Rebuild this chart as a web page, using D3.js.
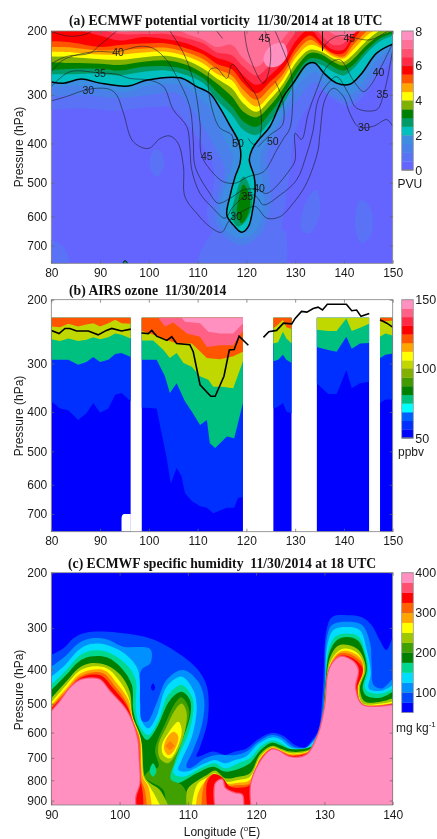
<!DOCTYPE html>
<html><head><meta charset="utf-8">
<script src="https://cdnjs.cloudflare.com/ajax/libs/d3/7.8.5/d3.min.js"></script>
<style>html,body{margin:0;padding:0;background:#fff}svg{display:block;filter:blur(0.4px)}text{font-family:"Liberation Sans",Arial,sans-serif;fill:#1a1a1a}.ttl{font-family:"Liberation Serif",serif;font-weight:bold;fill:#111}</style>
</head><body><svg id="c" width="437" height="839"></svg>
<script>
// ---------- tick labels ----------
const pressureTicksAB=[200,300,400,500,600,700];
const pressureTicksC=[200,300,400,500,600,700,800,900];
const lonTicksAB=[80,90,100,110,120,130,140,150];
const lonTicksC=[90,100,110,120,130,140];
const titles=["(a) ECMWF potential vorticity  11/30/2014 at 18 UTC","(b) AIRS ozone  11/30/2014","(c) ECMWF specific humidity  11/30/2014 at 18 UTC"];

// ---------- (a) potential vorticity ----------
const pvColors=['#6464ff','#5a72f6','#4a80ea','#3d8de2','#00c0c0','#009a66','#008000','#80b000','#ffff00','#ffa500','#ff5500','#ff0000','#ff2a45','#ff5070','#ff7099','#ff90c0'];
const pvLon=[80,84.5,90,94.1,98.9,103.6,107.8,111.2,113.9,117,119.4,122.1,124.8,127.6,130.3,133,135.4,137.8,139.9,141.9,144.7,147.4,150];
const pv25=[264,264,263,266,260,258,266,279,309,338,370,381,352,316,274,247,249,260,266,255,231,214,206];
const pv30=[257,255,255,258,252,251,257,271,294,322,352,363,335,300,263,239,241,252,258,249,226,210,203];
const pv35=[245,246,247,249,244,242,249,263,279,303,332,343,321,288,252,231,233,244,250,240,219,206,200];
const pv40=[236,237,240,241,237,235,242,255,271,288,316,332,309,279,244,226,229,239,244,233,213,199,190];
const pv45=[229,230,233,233,230,229,236,247,263,274,303,322,300,271,236,219,224,236,239,226,206,195,185];
const pv50=[222,223,227,226,224,223,230,240,255,266,291,309,288,263,229,212,222,233,236,219,200,185,175];
const pv55=[214,216,222,219,217,217,224,233,247,256,279,297,277,255,222,206,219,231,231,212,190,175,170];
const pv60=[197,198,206,213,208,211,217,227,238,246,266,282,266,244,212,198,214,226,226,206,190,170,165];
const pv65=[190,190,198,204,204,204,210,217,230,234,252,266,249,226,201,190,206,219,217,199,185,170,165];
const pv70=[185,185,190,201,198,193,204,212,222,219,239,252,233,210,190,185,193,204,208,204,180,170,165];
const pv75=[[124.2,226],[125.6,218],[127.6,217],[128.4,233],[126.9,249],[124.5,252],[123.5,241]];
const pv20=[[80,277],[82.5,279],[86.2,272],[90,279],[95.8,284],[99.5,274],[106.4,270],[109.8,285],[112.5,297],[114.6,325],[116.6,360],[118.3,393],[118.8,416],[118.7,448],[117.7,483],[116.6,540],[116,596],[117.3,628],[119,653],[120.4,634],[121.4,569],[121.8,520],[121.6,483],[120.6,440],[121.1,416],[122.4,393],[124.8,363],[127.6,303],[129.6,279],[132.4,248],[134,246],[136,263],[138.5,279],[141.2,281],[143.6,263],[146.7,231],[150,218]];
const pv15=[[80,286],[86.2,284],[90,290],[95.8,294],[99.5,284],[106.4,282],[109.8,300],[112.2,322],[113.9,356],[116,400],[117.3,432],[116.6,474],[114.9,549],[114.6,612],[116.6,656],[119,673],[122.1,645],[123.5,569],[123.5,510],[122.8,440],[123.5,408],[126.2,363],[128.9,309],[131,279],[134.1,260],[136.1,279],[138.5,294],[141.2,300],[144,276],[147.1,239],[150,224]];
const pv10=[[80,303],[86.6,300],[93.4,306],[100.2,300],[105.7,297],[108.4,322],[111.2,363],[113.9,416],[115.6,465],[114.2,540],[113.6,612],[116,673],[119,698],[122.8,661],[124.8,580],[124.8,492],[124.2,432],[125.5,393],[128.3,335],[131,303],[134.1,276],[136.1,294],[138.5,306],[141.2,313],[144,291],[147.4,249],[150,231]];
const pv05=[[80,328],[86.6,325],[93.4,330],[100.2,323],[105,325],[107.8,356],[111.2,408],[113.2,457],[113.2,510],[111.9,590],[113.2,656],[116.6,705],[121.4,728],[126.2,692],[127.6,590],[128.9,474],[129.6,393],[131,349],[132.7,322],[135.1,291],[137.8,309],[141.2,322],[144,303],[147.4,263],[150,244]];
const pv05Bottom=[[109.8,767],[111.9,680],[114.6,634],[119.4,656],[124.2,680],[127.6,645],[128.3,767],[127.6,800],[110,800]];
const pv05West=[[100.9,416],[102.3,416],[103.1,457],[101.6,483],[100.2,457]];
const pv05Corner=[[79,680],[82.5,705],[83.5,767],[79,790]];
const pv05East1=[[132.4,549],[134.4,520],[135.1,590],[133,656],[131.3,645]];
const pv05East2=[[143.3,549],[145.3,569],[145.7,656],[143.6,692],[142.3,634]];
const pvBlob25=[[119.4,483],[120.7,510],[121.2,559],[120,612],[118.3,634],[117,601],[117.7,540]];
const pvBlob30=[[119.4,505],[120.7,540],[120.4,590],[119,623],[118.1,590],[118.5,540]];
const pvDot=[[94.8,762],[95.1,757],[95.5,762],[95.5,775],[94.8,775]];

const theta30=[[80,311],[83.1,303],[86.6,292],[89.3,288],[92,290],[93.4,300],[94.8,335],[96.8,396],[99.9,412],[102.3,389],[104.3,383],[106,400],[107.1,457],[107.4,540],[109.8,590],[112.5,634],[114.9,653],[116.6,612],[119.7,580],[121.8,569],[124.2,606],[126.9,601],[129.6,559],[132,510],[133.7,457],[134.7,416],[135.1,377],[136.1,309],[137.8,288],[139.9,303],[141.2,335],[143,363],[146,362],[148.8,348],[150,362]];
const theta35=[[80,285],[83.8,260],[90,262],[93.4,264],[96.1,271],[100.2,274],[103,285],[105,328],[107.8,363],[108.4,408],[108.8,465],[110.5,530],[113.2,575],[115.6,606],[117.3,569],[120.6,533],[122.1,540],[123.5,564],[126.9,535],[130.3,492],[132.4,424],[133.7,370],[134.7,309],[136.8,279],[138.5,268],[140.9,297],[142.6,325],[146.7,328],[148.1,300],[150,226]];
const theta40=[[80,260],[82.5,241],[88.6,229],[93.4,229],[98.2,221],[100.9,224],[103.6,241],[105.7,268],[108.4,322],[109.1,393],[109.5,457],[112.5,530],[114.2,559],[116.6,545],[119.4,520],[122.1,518],[124.2,530],[128.9,465],[130,440],[130,377],[131.3,391],[132.7,335],[134.4,291],[136.8,249],[139.2,241],[141.9,274],[144,294],[145.3,285],[147.1,260],[150,217]];
const theta45=[[104.3,200],[107.1,231],[109.1,274],[110.5,356],[110.8,428],[113.2,474],[115.3,497],[117.7,501],[120.4,483],[123.5,470],[126.2,416],[127.6,389],[128.9,367],[129.5,309],[129.3,268],[128.6,247],[125.9,200]];
const theta45East=[[135.6,226],[136.8,214],[139.2,206],[145.3,212],[148.8,201],[150,198]];
const theta45Loop=[[119.6,200],[120.4,231],[123.5,279],[124.8,252],[124.8,217],[123.8,200]];
const theta45West=[[80,247],[83.1,236],[87.9,231],[90,219],[93.4,200]];
const theta45Corner=[[80,201],[83.8,207],[87.2,204],[88.3,200]];
const theta45Short=[[113.9,200],[115.1,210]];
const theta50=[[117.3,408],[117,381],[114.6,366],[113.2,335],[112.2,285],[112.5,257],[113.9,254],[116,271],[117.1,248],[119.7,274],[122.1,303],[123.1,349],[122.4,396],[121.4,402],[120.4,389]];
const theta50East=[[122.4,408],[124.8,381],[127.4,359],[127.4,309],[125.9,276]];
const thetaSpike=[[135.6,200],[135.6,228]];
const thetaLabelText=["40","35","30","45","45","40","35","30","50","50","45","40","35","30"];
const thetaLabelLon=[93.7,90,87.6,123.7,141.1,147.1,147.9,144.1,118.3,125.4,111.9,122.6,120.2,117.9];
const thetaLabelP=[230,263,291,209,210,260,299,365,400,396,430,514,538,601];

// ---------- (b) AIRS ozone ----------
const o3Colors=['#0000ff','#0030ff','#0060ff','#00ffff','#00c080','#008000','#409a00','#80b000','#c0d800','#ffff00','#ffa500','#ff5500','#ff0000','#ff2a45','#ff6085','#ff90c0'];
const o3TopP=225;
const seg1Lon=[80,81.8,83.5,85.5,87.2,88.6,90,91.7,93.1,94.4,96.3];
const seg1Orange=[238,239,234,238,235,233,238,233,228,233,234];
const seg1Yellow=[258,261,257,261,259,255,258,255,249,251,257];
const seg1Green=[293,293,293,302,297,288,297,293,283,281,288];
const seg1Blue=[376,392,396,419,403,380,402,392,362,358,376];
const seg2Pink=[[106.4,222],[107.4,231],[110.5,233],[112.2,246],[114.6,249],[117.3,249],[119.3,233]];
const seg2Rose=[[101.6,222],[103.3,238],[105,232],[107.8,249],[110.5,254],[111.9,271],[114.6,268],[117.3,268],[119.3,244]];
const seg2Orange=[[98.5,245],[100.2,249],[102.2,254],[104,260],[105.7,265],[108.8,265],[111.9,290],[114.6,292],[117.3,287],[119.3,279]];
const seg2Yellow=[[98.5,260],[100.9,260],[103,276],[104.3,290],[105.7,281],[107.1,299],[108.8,306],[110.5,324],[112.2,331],[113.2,345],[115,345],[117.3,348],[119.3,296]];
const seg2Green=[[98.5,293],[101.6,293],[103.3,324],[104.3,358],[105.7,338],[107.4,376],[108.8,399],[110.5,431],[111.9,419],[112.5,478],[113.6,491],[116,460],[117.5,465],[119.3,380]];
const seg2Blue=[[98.5,390],[101.6,392],[102.6,451],[103.6,514],[104.5,597],[105.7,548],[106.7,573],[107.4,627],[108.8,654],[110.5,672],[111.9,678],[113.2,697],[116,678],[117.5,678],[118.3,643],[119.3,640]];
const seg3Lon=[125.5,126.5,127.5,128.2,129.3];
const seg3Orange=[241,235,228,239,242];
const seg3Yellow=[265,263,246,257,265];
const seg3Green=[296,293,284,293,299];
const seg3Blue=[392,388,380,399,403];
const seg4Lon=[134.4,136.8,138.5,140.5,141.6,143.3,145.2];
const seg4Yellow=[243,245,245,226,245,240,234];
const seg4Green=[271,276,279,254,274,265,264];
const seg4Blue=[338,360,360,312,348,338,335];
const seg5Lon=[147.4,148.5,150];
const seg5Orange=[231,230,229];
const seg5Yellow=[254,249,252];
const seg5Green=[290,284,282];
const seg5Blue=[380,372,372];
const o3Notch=[94.4,96.3,700];
const tropo1=[[80,244],[81.6,249],[82.8,241],[83.8,241],[85.2,245],[87.6,245],[89.6,251],[91.3,244],[92.4,241],[94.4,245],[96.3,242]];
const tropo2=[[98.5,248],[99.9,249],[100.6,244],[101.6,253],[103.7,260],[104.7,254],[105.7,265],[108.4,267],[109.1,279],[110.5,341],[112.7,365],[113.6,365],[115.4,324],[116.5,276],[117.5,275],[118.5,253],[120.4,268]];
const tropo3=[[123.5,255],[124.6,246],[126.2,244],[127.6,233],[129.3,234],[130,226],[131.3,216],[132.4,217],[133.7,212],[134.7,210],[135.6,214],[136.6,206],[138.2,206],[140.5,206],[141.6,215],[142.6,214],[143.5,223],[145.2,219]];
const tropo4=[[147.4,228],[148.8,233],[150,239]];

// ---------- (c) specific humidity ----------
const qColors=['#0000ff','#0048ff','#0090ff','#00ddff','#00d890','#008000','#40a000','#a0c800','#ffff00','#ffa500','#ff6000','#ff0000','#ff5070','#ff90c0'];
const q75=[[90,362],[91.8,346],[93.2,323],[95.2,310],[99.6,310],[104.5,323],[107.1,342],[109.3,366],[111.5,401],[112.8,448],[112.9,555],[111.8,654],[111.3,695],[113.7,674],[115.44,688],[116.9,674],[118.6,661],[120.3,625],[122.3,601],[124,613],[125.7,648],[127.2,657],[128.2,628],[129.1,590],[129.8,448],[130.3,305],[131.1,278],[133.3,274],[135.5,278],[136.9,294],[138.1,327],[139.1,350],[140,319]];
const q100=[[90,392],[92,366],[94,334],[95.7,323],[98.1,325],[100.5,342],[104.5,348],[104.5,383],[103.2,401],[102.7,543],[104,561],[105.4,499],[106.9,428],[109.3,401],[111.5,433],[112.4,488],[112,578],[110.8,667],[109.8,738],[110.3,745],[112.5,702],[114.2,688],[116.9,688],[118.6,674],[120.3,635],[122.3,609],[123.7,618],[125.5,654],[127.2,658],[128.2,635],[129.2,590],[130,448],[130.3,327],[131.1,294],[133.3,287],[135.5,294],[136.7,334],[136.9,383],[137.2,443],[138.4,453],[140,424]];
const q125=[[90,419],[92,388],[94,350],[95.7,336],[98.1,338],[101,362],[102.7,401],[103,499],[103.2,555],[104.2,584],[105.4,543],[106.9,448],[109.1,419],[110.8,458],[111.3,510],[110.6,615],[109.1,709],[108.6,752],[109.8,760],[112.5,723],[114,709],[115.44,723],[116.9,709],[118.6,692],[120.3,644],[122.3,618],[123.5,625],[125.2,658],[127.2,660],[128.2,639],[129.4,590],[130.1,448],[130.4,342],[131.3,305],[133.3,298],[135.2,305],[136.2,350],[136.8,410],[136.5,453],[138.4,460],[140,443]];
const q150=[[90,443],[92.2,401],[94,366],[95.7,352],[98.1,354],[100.8,383],[102.3,424],[102.4,521],[103,578],[104.2,609],[105.7,555],[107.1,473],[109.1,443],[110.6,478],[110.8,521],[110.1,603],[108.6,695],[107.9,767],[109.3,783],[112.3,738],[114,723],[115.44,745],[117.4,723],[119.1,702],[120.6,654],[122.3,630],[123.5,639],[125,661],[127.2,661],[128.4,644],[129.5,590],[130.1,448],[130.6,350],[131.6,319],[133.3,312],[135,319],[136,358],[136.4,401],[135.9,448],[136.4,463],[138.4,468],[140,453]];
const q175=[[90,458],[92.2,414],[94,379],[95.7,366],[98.1,368],[100.3,396],[101.8,443],[102,521],[102.7,578],[104,628],[105.4,584],[107.4,488],[109.1,463],[110.3,488],[110.4,532],[109.3,622],[107.9,723],[107.1,798],[108.4,814],[111.3,767],[113.7,738],[115.44,760],[117.4,748],[119.1,723],[120.6,670],[122.3,639],[123.5,648],[125,664],[127.2,662],[128.5,648],[129.5,590],[130.1,448],[130.7,358],[131.8,327],[133.3,320],[134.9,328],[135.9,362],[136.2,401],[135.6,453],[136.2,476],[138.4,480],[140,463]];
const q175Hole=[[104.9,723],[105.4,760],[104.9,783],[104.4,760]];
const q200Patch=[[109.1,480],[110.2,521],[109.4,609],[108.1,716],[107.5,795],[109.1,822],[109.8,863],[109.8,930],[107.1,930],[106.4,846],[104.5,806],[103.7,783],[104.5,752],[105.7,738],[105.2,667],[106.9,555],[108.1,499]];
const q225a=[[90,483],[92.2,433],[94,396],[95.7,383],[98.1,388],[100.1,414],[101.5,463],[101.9,543],[103.2,641],[103.7,783],[104.5,814],[105.9,846],[107.1,923]];
const q225b=[[109.8,923],[109.9,846],[110.8,814],[112.8,775],[114,755],[115.44,790],[117.4,783],[119.1,767],[120.6,684],[122.3,651],[123.5,661],[125,674],[127.2,671],[128.5,651],[129.6,597],[130.2,448],[130.8,370],[132,340],[133.5,338],[135,350],[135.9,379],[136,405],[135.2,453],[135.9,493],[138.4,493],[140,483]];
const q250a=[[90,496],[92.2,443],[94,405],[95.7,392],[98.1,396],[99.8,426],[101.3,478],[101.9,543],[103.1,622],[103.5,783],[104.1,814],[105,863],[105.9,923]];
const q250b=[[110.6,923],[110.9,863],[111.5,814],[113,783],[114,767],[115.44,806],[117.4,798],[119.1,783],[120.6,695],[122.3,657],[123.5,667],[125,681],[127.2,676],[128.6,654],[129.6,603],[130.2,458],[130.9,379],[132.3,350],[133.8,348],[135.2,364],[135.8,401],[135,453],[135.6,499],[138.4,499],[140,493]];
const q275a=[[90,504],[92.2,453],[94,414],[95.7,401],[97.9,403],[99.6,438],[101.3,488],[101.9,549],[103,622],[103.4,783],[104.2,830],[104.7,923]];
const q275b=[[111.2,923],[111.5,863],[112.3,814],[113.2,783],[114,772],[115.44,814],[117.4,811],[119.1,798],[120.6,700],[122.3,658],[123.5,669],[125,684],[127.2,678],[128.6,655],[129.6,606],[130.2,466],[130.9,383],[132.3,354],[133.9,355],[135.4,373],[135.7,405],[134.9,453],[135.6,501],[140,498]];
const q300a=[[90,510],[92.2,460],[94,421],[95.7,408],[97.6,410],[99.3,446],[101.1,499],[101.9,555],[102.9,622],[103.2,798],[103.7,846],[104,923]];
const q300b=[[112,923],[112.2,846],[112.8,790],[114,772],[115.44,822],[117.4,822],[119.1,814],[120.6,706],[122.3,661],[123.5,671],[125,688],[127.2,681],[128.6,657],[129.7,609],[130.3,473],[131,388],[132.3,358],[134,362],[135.5,383],[135.6,410],[134.9,453],[135.6,503],[140,499]];
const q325a=[[90,516],[92.2,466],[94,426],[95.7,414],[97.4,417],[99.1,453],[101,504],[101.9,555],[102.7,628],[103.1,798],[103.4,863],[103.5,923]];
const q325b=[[112.8,923],[112.8,814],[113.7,772],[114.9,783],[116.2,830],[117.4,835],[119.1,822],[120.6,709],[122.3,664],[123.5,674],[125,691],[127.2,684],[128.6,659],[129.7,613],[130.3,484],[131.1,392],[132.3,364],[134.1,370],[135.6,396],[135.5,414],[134.8,453],[135.5,504],[140,501]];
const q375a=[[90,527],[91.3,493],[92.7,453],[94.4,428],[95.9,424],[97.1,428],[98.6,463],[100.8,516],[101.9,566],[102.6,628],[102.8,709],[102.9,814],[102.3,879],[102.3,923]];
const q375b=[[114,923],[114.1,814],[115,798],[115.44,838],[116.9,863],[117.9,871],[118.1,923]];
const q375c=[[119.3,923],[119.3,814],[120.8,709],[122.3,667],[123.2,671],[125,698],[127.4,688],[129.1,609],[130.1,510],[130.8,396],[132.3,367],[134.2,379],[134.9,401],[134.5,453],[135.6,505],[140,505]];
const qBlob225=[[109.1,499],[109.8,527],[109.6,590],[108.6,667],[107.1,723],[105.9,702],[105.7,648],[106.9,578],[108.1,521]];
const qBlob250=[[108.6,561],[109.1,590],[108.4,661],[107.4,702],[106.4,688],[106.2,648],[107.1,603]];
const qBlob275=[[107.9,597],[108.6,615],[107.9,674],[107.1,688],[106.5,661],[106.9,622]];
const qBlob300=[[107.4,631],[108.1,651],[107.4,670],[106.7,651]];
const qDryDot=[[104.9,438],[105.2,451],[104.9,460],[104.6,451]];

// ---------- drawing ----------
const svg=d3.select('#c');
const zip=(a,b)=>a.map((v,i)=>[v,b[i]]);
const pLeft=51.3,pRight=392.7;
let clipN=0;
function panel(top,bottom,lonDom,pDom,pTicks,lonTicks){
  const x=d3.scaleLinear().domain(lonDom).range([pLeft,pRight]);
  const y=d3.scalePow().exponent(0.19).domain(pDom).range([top,bottom]);
  const id='clip'+(clipN++);
  svg.append('clipPath').attr('id',id).append('rect').attr('x',pLeft).attr('y',top).attr('width',pRight-pLeft).attr('height',bottom-top);
  const g=svg.append('g');
  const plot=g.append('g').attr('clip-path',`url(#${id})`);
  return {x,y,g,plot,top,bottom,pTicks,lonTicks,id};
}
function frame(P){
  const {x,y,g,top,bottom,pTicks,lonTicks}=P;
  g.append('rect').attr('x',pLeft).attr('y',top).attr('width',pRight-pLeft).attr('height',bottom-top).attr('fill','none').attr('stroke','#808080').attr('stroke-width',0.8);
  const style=s=>{s.select('.domain').remove();s.selectAll('line').attr('stroke','#666').attr('stroke-width',0.7);s.selectAll('text').attr('font-size',12).attr('font-family','"Liberation Sans",Arial,sans-serif').attr('fill','#1a1a1a');};
  g.append('g').attr('transform',`translate(${pLeft},0)`).call(d3.axisLeft(y).tickValues(pTicks).tickSize(-3).tickPadding(4).tickFormat(d3.format('d'))).call(style);
  g.append('g').attr('transform',`translate(${pRight},0)`).call(d3.axisRight(y).tickValues(pTicks).tickSize(-3).tickFormat('')).call(style);
  g.append('g').attr('transform',`translate(0,${bottom})`).call(d3.axisBottom(x).tickValues(lonTicks).tickSize(-3).tickPadding(5).tickFormat(d3.format('d'))).call(style);
  g.append('g').attr('transform',`translate(0,${top})`).call(d3.axisTop(x).tickValues(lonTicks).tickSize(-3).tickFormat('')).call(style);
}
function lineGen(P,curve){return d3.line().x(d=>P.x(d[0])).y(d=>P.y(d[1])).curve(curve||d3.curveCatmullRom.alpha(0.5));}
// region between a traced contour and the top (or bottom) of the plot
function anchored(P,pts,anchorP,color,curve,halo){
  const d=lineGen(P,curve)(pts);
  const a=P.y(anchorP);
  const path=P.plot.append('path').attr('fill',color).attr('d',`${d}L${P.x(pts[pts.length-1][0])},${a}L${P.x(pts[0][0])},${a}Z`);
  if(halo) path.attr('stroke',halo).attr('stroke-width',2.4).attr('paint-order','stroke');
}
function closed(P,pts,color,curve){
  P.plot.append('path').attr('fill',color).attr('d',d3.line().x(d=>P.x(d[0])).y(d=>P.y(d[1])).curve(curve||d3.curveCatmullRomClosed.alpha(0.5))(pts));
}
function colorbar(y0,y1,colors,ticks,dom){
  const s=d3.scaleLinear().domain(dom).range([y1,y0]);
  const x0=401.7,w=11.6;
  const bar=svg.append('g');
  const h=(y1-y0)/colors.length;
  bar.selectAll('rect').data(colors).join('rect').attr('x',x0).attr('y',(c,i)=>y1-(i+1)*h).attr('width',w).attr('height',h+0.3).attr('fill',c=>c);
  bar.append('rect').attr('x',x0).attr('y',y0).attr('width',w).attr('height',y1-y0).attr('fill','none').attr('stroke','#999').attr('stroke-width',0.8);
  ticks.forEach(t=>{
    svg.append('text').attr('x',x0+w+2).attr('y',s(t)+4.5).attr('font-size',12.5).text(t);
    svg.append('line').attr('x1',x0).attr('x2',x0+w).attr('y1',s(t)).attr('y2',s(t)).attr('stroke','#777').attr('stroke-width',t===dom[0]?0.9:0.3);
  });
}
function title(t,x,y,size){svg.append('text').attr('class','ttl').attr('x',x).attr('y',y).attr('font-size',size).attr('xml:space','preserve').style('white-space','pre').text(t);}
function yLabel(cy){svg.append('text').attr('transform',`translate(23,${cy}) rotate(-90)`).attr('text-anchor','middle').attr('font-size',12).text('Pressure (hPa)');}

// ---- panel a
const A=panel(31,263.3,[80,150],[200,767],pressureTicksAB,lonTicksAB);
A.plot.append('rect').attr('x',pLeft).attr('y',31).attr('width',pRight-pLeft).attr('height',233).attr('fill',pvColors[0]);
anchored(A,pv05,200,pvColors[1]);
[pv05Bottom,pv05West,pv05Corner,pv05East1,pv05East2].forEach(s=>closed(A,s,pvColors[1]));
anchored(A,pv10,200,pvColors[2]);
anchored(A,pv15,200,pvColors[3]);
anchored(A,pv20,200,pvColors[4]);
[pv25,pv30,pv35,pv40,pv45,pv50,pv55,pv60,pv65,pv70].forEach((p,i)=>anchored(A,zip(pvLon,p),180,pvColors[5+i]));
closed(A,pv75,pvColors[15]);
closed(A,pvBlob25,pvColors[5]);
closed(A,pvBlob30,pvColors[6]);
closed(A,pvDot,pvColors[5]);
[theta30,theta35,theta40,theta45,theta45East,theta45Loop,theta45West,theta45Corner,theta45Short,theta50,theta50East].forEach(c=>{
  A.plot.append('path').attr('d',lineGen(A)(c)).attr('fill','none').attr('stroke','#1c1c2a').attr('stroke-width',0.7).attr('stroke-opacity',0.85);
});
A.plot.append('path').attr('d',lineGen(A,d3.curveLinear)(thetaSpike)).attr('stroke','#000').attr('stroke-width',1).attr('fill','none');
A.plot.append('path').attr('d',lineGen(A)(pv20)).attr('fill','none').attr('stroke','#000').attr('stroke-width',1.5);
A.plot.append('path').attr('d',lineGen(A,d3.curveCatmullRomClosed)(pvDot)).attr('fill','none').attr('stroke','#000').attr('stroke-width',0.9);
thetaLabelText.forEach((t,i)=>A.g.append('text').attr('x',A.x(thetaLabelLon[i])).attr('y',A.y(thetaLabelP[i])+3.8).attr('text-anchor','middle').attr('font-size',10.5).attr('fill','#15151f').text(t));
frame(A);
title(titles[0],69,25,13.7);
yLabel(147);
colorbar(31,170,pvColors,[0,2,4,6,8],[0,8]);
svg.append('text').attr('x',397.5).attr('y',188).attr('font-size',12).text('PVU');

// ---- panel b
const B=panel(299.7,531.7,[80,150],[200,767],pressureTicksAB,lonTicksAB);
const lin=d3.curveLinear;
const segments=[
 {span:[80,96.3],layers:[[zip(seg1Lon,seg1Blue),1],[zip(seg1Lon,seg1Green),4],[zip(seg1Lon,seg1Yellow),8],[zip(seg1Lon,seg1Orange),11]]},
 {span:[98.5,119.3],layers:[[seg2Blue,1],[seg2Green,4],[seg2Yellow,8],[seg2Orange,11],[seg2Rose,14],[seg2Pink,15]]},
 {span:[125.5,129.3],layers:[[zip(seg3Lon,seg3Blue),1],[zip(seg3Lon,seg3Green),4],[zip(seg3Lon,seg3Yellow),8],[zip(seg3Lon,seg3Orange),11]]},
 {span:[134.4,145.2],layers:[[zip(seg4Lon,seg4Blue),1],[zip(seg4Lon,seg4Green),4],[zip(seg4Lon,seg4Yellow),8]]},
 {span:[147.4,150],layers:[[zip(seg5Lon,seg5Blue),1],[zip(seg5Lon,seg5Green),4],[zip(seg5Lon,seg5Yellow),8],[zip(seg5Lon,seg5Orange),11]]}
];
segments.forEach((s,i)=>{
  const id='seg'+i;
  const xa=B.x(s.span[0]),xb=B.x(s.span[1]),ya=B.y(o3TopP);
  svg.append('clipPath').attr('id',id).append('rect').attr('x',xa).attr('y',ya).attr('width',xb-xa).attr('height',B.bottom-ya);
  const g=B.plot.append('g').attr('clip-path',`url(#${id})`);
  g.append('rect').attr('x',xa).attr('y',ya).attr('width',xb-xa).attr('height',B.bottom-ya).attr('fill',o3Colors[0]);
  const Q={x:B.x,y:B.y,plot:g};
  s.layers.forEach(([pts,c])=>anchored(Q,pts,190,o3Colors[c],lin));
});
B.plot.append('path').attr('fill','#fff').attr('d',`M${B.x(o3Notch[0])},${B.bottom}L${B.x(o3Notch[0])},${B.y(o3Notch[2])+5}Q${B.x(o3Notch[0])},${B.y(o3Notch[2])} ${B.x(o3Notch[0])+3},${B.y(o3Notch[2])}L${B.x(o3Notch[1])},${B.y(o3Notch[2])}L${B.x(o3Notch[1])},${B.bottom}Z`);
[tropo1,tropo2,tropo3,tropo4].forEach(t=>B.plot.append('path').attr('d',lineGen(B,lin)(t)).attr('fill','none').attr('stroke','#000').attr('stroke-width',1.6));
frame(B);
title(titles[1],69,295,13.7);
yLabel(416);
colorbar(299.7,438,o3Colors,[50,100,150],[50,150]);
svg.append('text').attr('x',398).attr('y',456).attr('font-size',12).text('ppbv');

// ---- panel c
const C=panel(572.7,805,[90,140],[200,923],pressureTicksC,lonTicksC);
C.plot.append('rect').attr('x',pLeft).attr('y',572.7).attr('width',pRight-pLeft).attr('height',233).attr('fill',qColors[0]);
const qb=923+20;
anchored(C,q75,qb,qColors[1]);
closed(C,qDryDot,qColors[0]);
anchored(C,q100,qb,qColors[2]);
anchored(C,q125,qb,qColors[3]);
anchored(C,q150,qb,qColors[4]);
anchored(C,q175,qb,qColors[5]);
closed(C,q200Patch,qColors[6]);
closed(C,q175Hole,qColors[4]);
[q225a,q225b].forEach(s=>anchored(C,s,qb,qColors[7]));
closed(C,qBlob225,qColors[7]);
[q250a,q250b].forEach(s=>anchored(C,s,qb,qColors[8]));
closed(C,qBlob250,qColors[8]);
[q275a,q275b].forEach(s=>anchored(C,s,qb,qColors[9]));
closed(C,qBlob275,qColors[9]);
[q300a,q300b].forEach(s=>anchored(C,s,qb,qColors[10]));
closed(C,qBlob300,'#ff8000',d3.curveLinearClosed);
[q325a,q325b].forEach(s=>anchored(C,s,qb,qColors[11]));
[q375a,q375b,q375c].forEach(s=>anchored(C,s,qb,qColors[13],undefined,qColors[12]));
frame(C);
title(titles[2],68,568,13.7);
yLabel(690);
colorbar(572.7,712.5,qColors,[100,200,300,400],[50,400]);
const ql=svg.append('text').attr('x',396).attr('y',732).attr('font-size',12);
ql.append('tspan').text('mg kg');
ql.append('tspan').attr('dy',-5).attr('font-size',8).text('-1');
const lx=svg.append('text').attr('x',222).attr('y',836).attr('text-anchor','middle').attr('font-size',12);
lx.append('tspan').text('Longitude (');
lx.append('tspan').attr('dy',-5).attr('font-size',8).text('o');
lx.append('tspan').attr('dy',5).text('E)');
</script></body></html>
